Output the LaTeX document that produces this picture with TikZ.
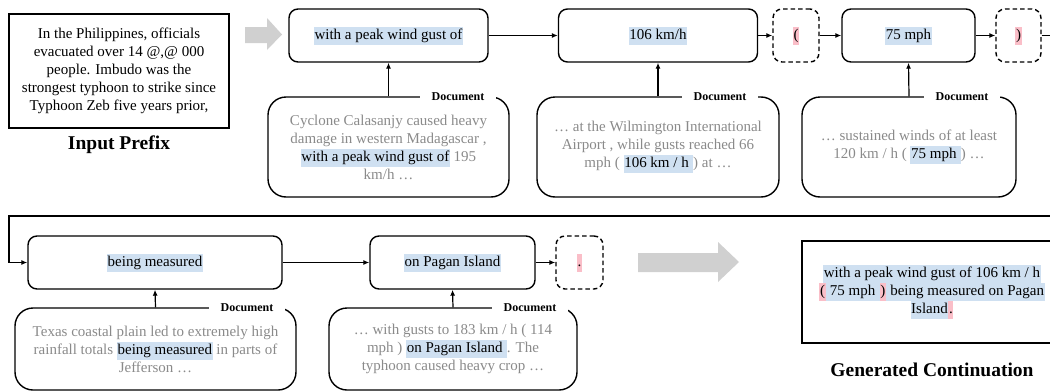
\documentclass[tikz,border=0pt]{standalone}
\usepackage{fontspec}
\setmainfont{Liberation Serif}
\usetikzlibrary{arrows.meta}
\definecolor{hlblue}{RGB}{207,224,241}
\definecolor{hlpink}{RGB}{250,190,200}
\definecolor{docgray}{RGB}{138,138,138}
\definecolor{arrowgray}{RGB}{208,208,208}
\newcommand\tokfont{\fontsize{15}{18}\selectfont}
\newcommand\capfont{\fontsize{19.5}{22}\selectfont\bfseries}
\newcommand\lblfont{\fontsize{12}{13}\selectfont\bfseries}
\newcommand\hlb[1]{{\setlength{\fboxsep}{0pt}\colorbox{hlblue}{\color{black}\strut\kern0.6pt\relax#1\kern0.6pt\relax}}}
\newcommand\hlp[1]{{\setlength{\fboxsep}{0pt}\colorbox{hlpink}{\color{black}\strut\kern0.6pt\relax#1\kern0.6pt\relax}}}
\tikzset{
  tok/.style={draw, line width=1.4pt, rounded corners=9pt, minimum height=53pt, inner sep=0pt, font=\tokfont},
  dtok/.style={tok, dash pattern=on 4.5pt off 3pt},
  doc/.style={draw, line width=1.4pt, rounded corners=18pt, inner sep=0pt, text=docgray, align=center, font=\tokfont},
  doclbl/.style={fill=white, inner xsep=12pt, inner ysep=1pt, font=\lblfont},
  conn/.style={line width=1.2pt, -{Latex[length=6pt,width=5pt]}},
  garrow/.style={fill=arrowgray, draw=none},
  plainbox/.style={draw, line width=1.4pt, inner sep=0pt, align=center, font=\tokfont},
}
\begin{document}
\begin{tikzpicture}[x=1pt,y=-1pt]
\useasboundingbox (0,0) rectangle (1050,391);
% input prefix
\node[plainbox, minimum width=220pt, minimum height=114pt] (inp) at (119,71)
  {In the Philippines, officials\\evacuated over 14 @,@ 000\\people. Imbudo was the\\strongest typhoon to strike since\\Typhoon Zeb five years prior,};
\node[font=\capfont] (inplbl) at (119,145) {Input Prefix};
% gray arrows
\fill[garrow] (245,27) -- (267,27) -- (267,18) -- (282,34.5) -- (267,50) -- (267,43) -- (245,43) -- cycle;
\fill[garrow] (638,253) -- (718,253) -- (718,242) -- (739,262) -- (718,282) -- (718,272) -- (638,272) -- cycle;
% top row tokens
\node[tok, minimum width=199pt] (wpk) at (388.5,35.5) {\hlb{with a peak wind gust of}};
\node[tok, minimum width=199pt] (kmh) at (658,35.5) {\hlb{106 km/h}};
\node[dtok, minimum width=46pt] (lp) at (796,35.5) {\hlp{(}};
\node[tok, minimum width=133pt] (mph) at (908.5,35.5) {\hlb{75 mph}};
\node[dtok, minimum width=45pt] (rp) at (1018.5,35.5) {\hlp{)}};
% bottom row tokens
\node[tok, minimum width=254pt] (bm) at (155,262.5) {\hlb{being measured}};
\node[tok, minimum width=165pt] (pg) at (452.5,262.5) {\hlb{on Pagan Island}};
\node[dtok, minimum width=47pt] (dot) at (579.5,262.5) {\hlp{.}};
% documents
\node[doc, minimum width=241pt, minimum height=100pt] (d1) at (388.5,147)
  {Cyclone Calasanjy caused heavy\\damage in western Madagascar ,\\\hlb{with a peak wind gust of} 195\\km/h …};
\node[doc, minimum width=242pt, minimum height=100pt] (d2) at (658,147)
  {… at the Wilmington International\\Airport , while gusts reached 66\\mph ( \hlb{106 km / h }) at …};
\node[doc, minimum width=214pt, minimum height=100pt] (d3) at (909,147)
  {… sustained winds of at least\\120 km / h ( \hlb{75 mph }) …};
\node[doc, minimum width=281pt, minimum height=82pt] (d4) at (155.5,349)
  {Texas coastal plain led to extremely high\\rainfall totals \hlb{being measured} in parts of\\Jefferson …};
\node[doc, minimum width=248pt, minimum height=82pt] (d5) at (453,349)
  {… with gusts to 183 km / h ( 114\\mph ) \hlb{on Pagan Island }. The\\typhoon caused heavy crop …};
\node[doclbl] (l1) at (458,97) {Document};
\node[doclbl] (l2) at (720,97) {Document};
\node[doclbl] (l3) at (962,97) {Document};
\node[doclbl] (l4) at (247,308) {Document};
\node[doclbl] (l5) at (530,308) {Document};
% generated continuation
\node[plainbox, minimum width=260pt, minimum height=102pt] (gen) at (932,292)
  {\hlb{with a peak wind gust of 106 km / h}\\\hlp{(}\hlb{ 75 mph }\hlp{)}\hlb{ being measured on Pagan}\\\hlb{Island}\hlp{.}};
\node[font=\capfont] (genlbl) at (932,370) {Generated Continuation};
% connectors
\draw[conn] (wpk) -- (kmh);
\draw[conn] (kmh) -- (lp);
\draw[conn] (lp) -- (mph);
\draw[conn] (mph) -- (rp);
\draw[conn] (bm) -- (pg);
\draw[conn] (pg) -- (dot);
\draw[conn] (d1.north) -- (wpk.south);
\draw[conn] (d2.north) -- (kmh.south);
\draw[conn] (d3.north) -- (mph.south);
\draw[conn] (d4.north) -- (bm.south);
\draw[conn] (d5.north) -- (pg.south);
\coordinate (turnR) at (1056,216);
\coordinate (turnL) at (9,216);
\draw[conn] (rp.east) -| (turnR) -- (turnL) |- (bm.west);
\end{tikzpicture}
\end{document}
